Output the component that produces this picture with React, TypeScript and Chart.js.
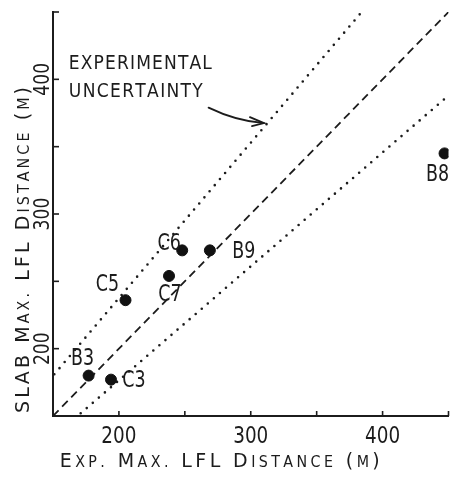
import React, { useEffect, useRef } from 'react';
import { Chart, registerables } from 'chart.js';

Chart.register(...registerables);

// ---- data ----
const pointNames = ['B3', 'C3', 'C5', 'C7', 'C6', 'B9', 'B8'];
const expDistance = [177, 194, 205, 238, 248, 269, 447];
const slabDistance = [180, 177, 236, 254, 273, 273, 345];

const parityX = [150, 450];
const parityY = [150, 450];
const upperX = [151, 385];
const upperY = [181, 451];
const lowerX = [171, 450];
const lowerY = [152, 388];

const axisMin = 150;
const axisMax = 450;
const tickValues = [200, 250, 300, 350, 400, 450];
const labelledTicks = [200, 300, 400];

const xTitle = 'Exp. Max. LFL Distance (m)';
const yTitle = 'SLAB Max. LFL Distance (m)';
const noteLines = ['EXPERIMENTAL', 'UNCERTAINTY'];
// note anchor (data coords) and arrow (data coords)
const noteX = 162;
const noteY = [413, 392];
const arrowStart = [268, 379];
const arrowCtrl = [289, 369];
const arrowTip = [310, 367.5];

// label offsets in px (style, not data)
const labelOffsets: [number, number][] = [
  [-6, -17],
  [23, 1],
  [-18, -15],
  [1, 19],
  [-13, -6],
  [34, 2],
  [-7, 22],
];

const FONT = '"DejaVu Sans", "Liberation Sans", sans-serif';
const INK = '#1c1c1c';

function drawScaled(
  ctx: CanvasRenderingContext2D,
  text: string,
  x: number,
  y: number,
  size: number,
  sx: number,
  rot = 0,
  align: CanvasTextAlign = 'center',
  baseline: CanvasTextBaseline = 'middle'
) {
  ctx.save();
  ctx.translate(x, y);
  ctx.rotate(rot);
  ctx.scale(sx, 1);
  ctx.font = `${size}px ${FONT}`;
  ctx.textAlign = align;
  ctx.textBaseline = baseline;
  ctx.fillStyle = INK;
  ctx.fillText(text, 0, 0);
  ctx.restore();
}

type Glyph = { c: string; size: number };

function smallCaps(text: string, big: number, small: number): Glyph[] {
  return text.split('').map((c) => {
    if (c >= 'a' && c <= 'z') return { c: c.toUpperCase(), size: small };
    if (c === '.') return { c, size: small };
    return { c, size: big };
  });
}

function drawSpaced(
  ctx: CanvasRenderingContext2D,
  glyphs: Glyph[],
  x: number,
  y: number,
  width: number,
  sx: number,
  anchor: 'left' | 'center',
  rot = 0
) {
  ctx.save();
  ctx.translate(x, y);
  ctx.rotate(rot);
  ctx.fillStyle = INK;
  ctx.textAlign = 'left';
  ctx.textBaseline = 'alphabetic';
  const widths = glyphs.map((g) => {
    ctx.font = `${g.size}px ${FONT}`;
    return ctx.measureText(g.c).width * sx;
  });
  const natural = widths.reduce((a, b) => a + b, 0);
  const gap = glyphs.length > 1 ? (width - natural) / (glyphs.length - 1) : 0;
  let pos = anchor === 'center' ? -width / 2 : 0;
  glyphs.forEach((g, i) => {
    ctx.save();
    ctx.translate(pos, 0);
    ctx.scale(sx, 1);
    ctx.font = `${g.size}px ${FONT}`;
    ctx.fillText(g.c, 0, 0);
    ctx.restore();
    pos += widths[i] + gap;
  });
  ctx.restore();
}

const decorPlugin = {
  id: 'decor',
  afterDraw(chart: any) {
    const ctx: CanvasRenderingContext2D = chart.ctx;
    const xs = chart.scales.x;
    const ys = chart.scales.y;
    const area = chart.chartArea;
    ctx.save();
    ctx.strokeStyle = INK;
    ctx.lineWidth = 1.6;
    // tick marks pointing inward
    tickValues.forEach((v) => {
      const px = xs.getPixelForValue(v);
      ctx.beginPath();
      ctx.moveTo(px, area.bottom);
      ctx.lineTo(px, area.bottom - 5);
      ctx.stroke();
      const py = ys.getPixelForValue(v);
      ctx.beginPath();
      ctx.moveTo(area.left, py);
      ctx.lineTo(area.left + 6, py);
      ctx.stroke();
    });
    // tick labels
    labelledTicks.forEach((v) => {
      drawScaled(ctx, String(v), xs.getPixelForValue(v), area.bottom + 21, 23, 0.8);
      drawScaled(ctx, String(v), area.left - 9, ys.getPixelForValue(v), 21, 0.82, -Math.PI / 2);
    });
    // axis titles (small caps)
    drawSpaced(ctx, smallCaps(xTitle, 20, 15), (area.left + area.right) / 2 - 31 + 0, 467, 320, 0.95, 'center');
    drawSpaced(ctx, smallCaps(yTitle, 20, 15), 29, 250, 326, 0.95, 'center', -Math.PI / 2);
    // point labels
    pointNames.forEach((name, i) => {
      const px = xs.getPixelForValue(expDistance[i]) + labelOffsets[i][0];
      const py = ys.getPixelForValue(slabDistance[i]) + labelOffsets[i][1];
      drawScaled(ctx, name, px, py, 23, 0.76);
    });
    // note text
    const noteWidths = [143, 134];
    noteLines.forEach((line, i) => {
      drawSpaced(
        ctx,
        line.split('').map((c) => ({ c, size: 19 })),
        xs.getPixelForValue(noteX),
        ys.getPixelForValue(noteY[i]) + 7,
        noteWidths[i],
        0.9,
        'left'
      );
    });
    // arrow
    const sx0 = xs.getPixelForValue(arrowStart[0]);
    const sy0 = ys.getPixelForValue(arrowStart[1]);
    const cx0 = xs.getPixelForValue(arrowCtrl[0]);
    const cy0 = ys.getPixelForValue(arrowCtrl[1]);
    const tx = xs.getPixelForValue(arrowTip[0]);
    const ty = ys.getPixelForValue(arrowTip[1]);
    ctx.lineWidth = 1.8;
    ctx.lineCap = 'round';
    ctx.beginPath();
    ctx.moveTo(sx0, sy0);
    ctx.quadraticCurveTo(cx0, cy0, tx, ty);
    ctx.stroke();
    ctx.beginPath();
    ctx.moveTo(tx - 14, ty - 6);
    ctx.lineTo(tx, ty);
    ctx.lineTo(tx - 12, ty + 3);
    ctx.stroke();
    ctx.restore();
  },
};

export default function App() {
  const ref = useRef<HTMLCanvasElement | null>(null);
  useEffect(() => {
    document.body.style.margin = '0';
    const canvas = ref.current;
    if (!canvas) return;
    const toXY = (xsArr: number[], ysArr: number[]) => xsArr.map((x, i) => ({ x, y: ysArr[i] }));
    const chart = new Chart(canvas, {
      type: 'scatter',
      data: {
        datasets: [
          {
            label: 'Runs',
            data: toXY(expDistance, slabDistance),
            backgroundColor: '#111',
            borderColor: '#111',
            pointRadius: 5.5,
            showLine: false,
          },
          {
            label: 'Parity',
            data: toXY(parityX, parityY),
            showLine: true,
            borderColor: INK,
            borderWidth: 1.8,
            borderDash: [8, 5],
            pointRadius: 0,
          },
          {
            label: 'Upper',
            data: toXY(upperX, upperY),
            showLine: true,
            borderColor: INK,
            borderWidth: 2.6,
            borderDash: [0, 8],
            borderCapStyle: 'round',
            pointRadius: 0,
          },
          {
            label: 'Lower',
            data: toXY(lowerX, lowerY),
            showLine: true,
            borderColor: INK,
            borderWidth: 2.6,
            borderDash: [0, 8],
            borderCapStyle: 'round',
            pointRadius: 0,
          },
        ] as any,
      },
      options: {
        responsive: false,
        animation: false,
        devicePixelRatio: 1,
        layout: { padding: { left: 53, right: 3, top: 12, bottom: 62 } },
        plugins: { legend: { display: false }, tooltip: { enabled: false } },
        scales: {
          x: {
            type: 'linear',
            min: axisMin,
            max: axisMax,
            grid: { display: false, drawTicks: false },
            border: { display: true, color: INK, width: 2 },
            ticks: { display: false },
          },
          y: {
            type: 'linear',
            min: axisMin,
            max: axisMax,
            grid: { display: false, drawTicks: false },
            border: { display: true, color: INK, width: 2 },
            ticks: { display: false },
          },
        },
      },
      plugins: [decorPlugin],
    });
    return () => chart.destroy();
  }, []);
  return (
    <div style={{ width: 455, height: 478, background: '#fff' }}>
      <canvas ref={ref} width={455} height={478} />
    </div>
  );
}
